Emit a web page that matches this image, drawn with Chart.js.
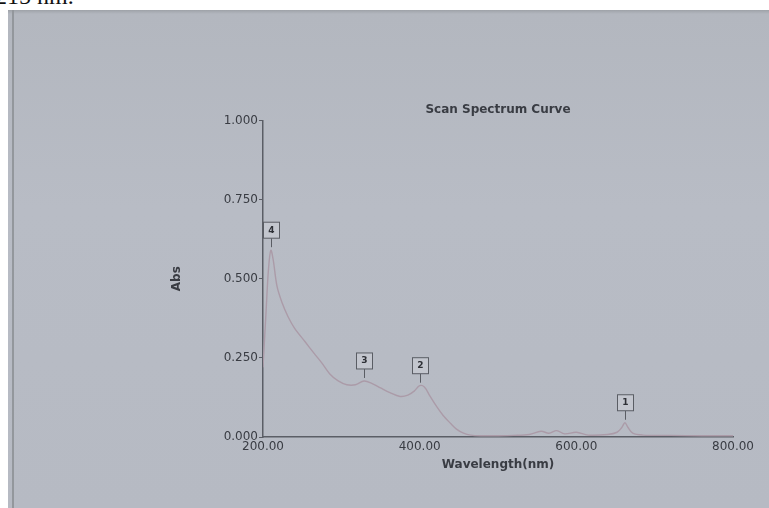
<!DOCTYPE html>
<html>
<head>
<meta charset="utf-8">
<script src="https://cdn.jsdelivr.net/npm/chart.js@4.4.0/dist/chart.umd.min.js"></script>
<style>
    html, body { margin: 0; padding: 0; background: #fff; }
    #page { position: relative; width: 769px; height: 508px; overflow: hidden; background: #fff; }
    #caption { position: absolute; left: -5px; top: -17px; font-family: "Liberation Serif", serif; font-size: 24px; color: #111; }
    #photo { position: absolute; left: 8px; top: 10px; width: 761px; height: 498px;
             background: linear-gradient(180deg, #9ea2a8 0px, #b3b7bf 4px, #b8bcc5 40%, #b6bac3 100%); }
    #edge { position: absolute; left: 12px; top: 10px; width: 2px; height: 498px; background: #93979c; }
    #chart { position: absolute; left: 0; top: 0; }
</style>
</head>
<body>
<div id="page">
    <div id="caption">215 nm.</div>
    <div id="photo"></div>
    <div id="edge"></div>
    <canvas id="chart" width="769" height="508"></canvas>
</div>
<script>
// spectrum
const wavelengths = [200, 204, 207, 210, 213, 218, 225, 232, 240, 254, 265, 275, 285, 296, 307, 318, 329, 340, 350, 362,
    375, 385, 393, 400, 406, 413, 422, 430, 439, 447, 456, 465, 480, 500, 520, 540, 555, 565, 575, 585,
    600, 615, 640, 652, 658, 662, 666, 672, 685, 720, 760, 800];
const absorbance = [0.22, 0.40, 0.53, 0.59, 0.56, 0.475, 0.42, 0.38, 0.345, 0.30, 0.265, 0.234, 0.20, 0.177, 0.165, 0.165, 0.177, 0.168, 0.155, 0.14,
    0.128, 0.132, 0.145, 0.162, 0.158, 0.13, 0.095, 0.068, 0.044, 0.025, 0.012, 0.006, 0.004, 0.004, 0.005, 0.008, 0.018, 0.012, 0.02, 0.01,
    0.015, 0.006, 0.008, 0.015, 0.03, 0.045, 0.03, 0.012, 0.006, 0.005, 0.004, 0.004];

// peak markers
const peakLabels = ['1', '2', '3', '4'];
const peakWaves = [662, 400, 329, 210];
const peakAbs = [0.045, 0.162, 0.177, 0.59];

const xTicks = [200, 400, 600, 800];

const axisColor = '#5b5e66';
const textColor = '#393c43';

const peakMarkers = {
    id: 'peakMarkers',
    afterDatasetsDraw(chart) {
        const ctx = chart.ctx;
        const xs = chart.scales.x, ys = chart.scales.y;
        ctx.save();
        for (let i = 0; i < peakLabels.length; i++) {
            const px = Math.round(xs.getPixelForValue(peakWaves[i])) + 0.5;
            const py = ys.getPixelForValue(peakAbs[i]);
            ctx.strokeStyle = '#5a5d64';
            ctx.lineWidth = 1;
            ctx.beginPath();
            ctx.moveTo(px, py - 3);
            ctx.lineTo(px, py - 12);
            ctx.stroke();
            ctx.fillStyle = '#c3c6ce';
            ctx.fillRect(px - 8, py - 28, 16, 16);
            ctx.strokeRect(px - 8, py - 28, 16, 16);
            ctx.fillStyle = '#2e3036';
            ctx.font = 'bold 9px "DejaVu Sans"';
            ctx.textAlign = 'center';
            ctx.textBaseline = 'middle';
            ctx.fillText(peakLabels[i], px, py - 20);
        }
        ctx.restore();
    }
};

function initGraph(container) {
    const chart = document.getElementById(container);
    const points = wavelengths.map((w, i) => ({ x: w, y: absorbance[i] }));

    new Chart(chart, {
        type: 'line',
        data: {
            datasets: [{
                label: 'Abs',
                data: points,
                borderColor: '#ab9ba8',
                borderWidth: 1.4,
                pointRadius: 0,
                tension: 0.35,
                fill: false,
            }]
        },
        options: {
            responsive: false,
            animation: false,
            layout: {
                padding: { left: 170, right: 36, top: 103, bottom: 36 }
            },
            scales: {
                x: {
                    type: 'linear',
                    min: 200,
                    max: 800,
                    afterBuildTicks: (s) => { s.ticks = xTicks.map(v => ({ value: v })); },
                    afterFit: (s) => { s.height = 35; },
                    border: { display: true, color: axisColor, width: 1.5 },
                    grid: { drawOnChartArea: false, drawTicks: false },
                    ticks: {
                        padding: 3,
                        maxRotation: 0,
                        color: textColor,
                        font: { family: 'DejaVu Sans', size: 12 },
                        callback: (v) => Number(v).toFixed(2)
                    },
                    title: {
                        display: true,
                        text: 'Wavelength(nm)',
                        color: textColor,
                        padding: { top: 1, bottom: 0 },
                        font: { family: 'DejaVu Sans', size: 12, weight: 'bold' }
                    }
                },
                y: {
                    min: 0,
                    max: 1,
                    afterFit: (s) => { s.width = 93; },
                    border: { display: true, color: axisColor, width: 1.5 },
                    grid: { drawOnChartArea: false, drawTicks: true, tickLength: 4, color: axisColor },
                    ticks: {
                        stepSize: 0.25,
                        padding: 1,
                        color: textColor,
                        font: { family: 'DejaVu Sans', size: 12 },
                        callback: (v) => Number(v).toFixed(3)
                    },
                    title: {
                        display: true,
                        text: 'Abs',
                        color: textColor,
                        padding: { top: 0, bottom: 0 },
                        font: { family: 'DejaVu Sans', size: 12, weight: 'bold' }
                    }
                }
            },
            plugins: {
                legend: { display: false },
                tooltip: { enabled: false },
                title: {
                    display: true,
                    text: 'Scan Spectrum Curve',
                    fullSize: false,
                    color: textColor,
                    padding: { top: 0, bottom: 3 },
                    font: { family: 'DejaVu Sans', size: 12, weight: 'bold', lineHeight: 1.2 }
                }
            }
        },
        plugins: [peakMarkers]
    });
}

initGraph('chart');
</script>
</body>
</html>
